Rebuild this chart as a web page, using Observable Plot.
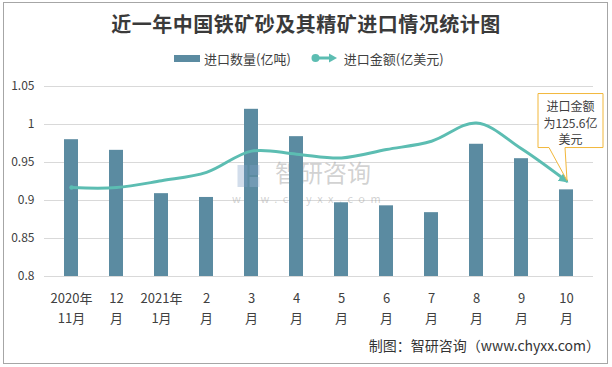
<!DOCTYPE html>
<html><head><meta charset="utf-8">
<script src="https://cdn.jsdelivr.net/npm/d3@7"></script>
<script src="https://cdn.jsdelivr.net/npm/@observablehq/plot@0.6"></script>
<style>
body{margin:0;background:#fff;font-family:"Noto Sans CJK SC","Noto Sans",sans-serif;}
#frame{position:relative;width:612px;height:367px;overflow:hidden;background:#fff}
#border{position:absolute;left:3px;top:2px;width:605px;height:362px;border:1px solid #a6a6a6;box-sizing:border-box;pointer-events:none}
#chart{position:absolute;left:0;top:0}
#title{position:absolute;left:0;top:9px;width:612px;text-align:center;font-size:20px;font-weight:700;color:#3a3a3a;line-height:30px;letter-spacing:0.5px}
#legend{position:absolute;left:174px;top:48px;height:20px;display:flex;align-items:center;font-size:13px;color:#404040}
#legend .sw{width:26px;height:7px;background:#5b8ba1;margin-right:4px}
#legend .it{display:flex;align-items:center}
#caption{position:absolute;right:12px;top:335px;font-size:14px;color:#333;line-height:20px}
</style>
</head><body>
<div id="frame">
  <div id="chart"></div>
  <div id="title">近一年中国铁矿砂及其精矿进口情况统计图</div>
  <div id="legend">
    <div class="it"><div class="sw"></div><span>进口数量(亿吨)</span></div>
    <div class="it" style="margin-left:20px"><svg width="28" height="12" style="margin-right:5px"><line x1="3" y1="6" x2="20" y2="6" stroke="#5cbdb2" stroke-width="3"/><circle cx="4.5" cy="6" r="4" fill="#5cbdb2"/><path d="M18,1.5L26,6L18,10.5Z" fill="#5cbdb2"/></svg><span>进口金额(亿美元)</span></div>
  </div>
  <div id="caption">制图：智研咨询（www.chyxx.com）</div>
  <div id="border"></div>
</div>
<script>
// categories (x tick labels, two lines)
const months = ["2020年\n11月","12\n月","2021年\n1月","2\n月","3\n月","4\n月","5\n月","6\n月","7\n月","8\n月","9\n月","10\n月"];
// 进口数量 (亿吨)
const quantity = [0.980, 0.966, 0.909, 0.904, 1.020, 0.984, 0.897, 0.893, 0.884, 0.974, 0.955, 0.914];
// 进口金额 (亿美元), drawn against a hidden secondary axis 0–250
const amount = [117, 117, 126, 137, 165, 161, 156, 167, 178, 202, 168, 125.6];
const amountAxis = [0, 250];
const yTicks = [0.8, 0.85, 0.9, 0.95, 1, 1.05];
const yDomain = [0.8, 1.05];

const barColor = "#5b8ba1";
const lineColor = "#5cbdb2";

const toLeft = v => yDomain[0] + (v - amountAxis[0]) / (amountAxis[1] - amountAxis[0]) * (yDomain[1] - yDomain[0]);
const table = months.map((m, i) => ({month: m, q: quantity[i], a: amount[i], ay: toLeft(amount[i])}));

const chart = Plot.plot({
  width: 612, height: 367,
  marginTop: 86, marginBottom: 91, marginLeft: 44, marginRight: 19,
  style: {fontFamily: '"Noto Sans CJK SC","Noto Sans",sans-serif', background: "transparent"},
  x: {domain: months, paddingInner: 0.69, paddingOuter: 0.345, label: null},
  y: {domain: yDomain, label: null},
  marks: [
    Plot.gridY(yTicks, {stroke: "#d9d9d9", strokeOpacity: 1}),
    Plot.text(["智研咨询"], {frameAnchor: "middle", dx: 4, dy: -7, fontSize: 24, fill: "#9a9a9a", fillOpacity: 0.45}),
    Plot.text(["www.chyxx.com"], {frameAnchor: "middle", dx: -10, dy: 18, fontSize: 11, fill: "#9a9a9a", fillOpacity: 0.45}),
    Plot.barY(table, {x: "month", y1: yDomain[0], y2: "q", fill: barColor}),
    Plot.line(table, {x: "month", y: "ay", stroke: lineColor, strokeWidth: 3, curve: "catmull-rom", markerStart: "dot", markerEnd: "arrow"}),
    Plot.axisY(yTicks, {tickSize: 0, tickPadding: 10, fontSize: 12, fill: "#404040", tickFormat: d => String(d), label: null}),
    Plot.axisX({tickSize: 0, tickPadding: 12, fontSize: 13, lineHeight: 1.55, fill: "#404040", tickFormat: d => d, label: null})
  ]
});
document.getElementById("chart").appendChild(chart);

// widen watermark url letter spacing
d3.select(chart).selectAll("text").filter(function() { return this.textContent === "www.chyxx.com"; })
  .style("letter-spacing", "5.5px");

// resize the line markers to fixed pixel sizes
d3.select(chart).selectAll("marker").each(function() {
  const m = d3.select(this);
  m.attr("markerUnits", "userSpaceOnUse");
  if (!m.select("circle").empty()) {
    m.attr("markerWidth", 9).attr("markerHeight", 9);
  } else {
    m.attr("markerWidth", 12).attr("markerHeight", 12).attr("viewBox", "-6 -5 10 10")
     .attr("fill", lineColor).attr("stroke", "none");
    m.selectAll("path").attr("d", "M-6,-4.2L2,0L-6,4.2Z").attr("fill", lineColor).attr("stroke", "none");
  }
});

// watermark logo
const g0 = d3.select(chart).append("g").attr("opacity", 0.35);
const sx = chart.scale("x"), sy = chart.scale("y");
{
  const fx = (44 + 593) / 2, fy = (86 + 276) / 2;
  g0.append("rect").attr("x", fx - 81).attr("y", fy - 16).attr("width", 10).attr("height", 22).attr("fill", "#7f9fc8");
  g0.append("rect").attr("x", fx - 69).attr("y", fy - 16).attr("width", 10).attr("height", 10).attr("fill", "#7f9fc8");
  g0.append("rect").attr("x", fx - 69).attr("y", fy - 4).attr("width", 10).attr("height", 10).attr("fill", "#9fb8d8");
}

// callout for the last value
const last = table.length - 1;
const cx = sx.apply(table[last].month) + sx.bandwidth / 2;
const cy = sy.apply(table[last].ay);
const L = cx - 28, R = cx + 37, T = cy - 87, B = cy - 33;
const g = d3.select(chart).append("g");
g.append("path")
  .attr("d", `M${L},${T}H${R}V${B}H${cx - 1}L${cx + 1},${cy}L${cx - 17},${B}H${L}Z`)
  .attr("fill", "#fff").attr("stroke", "#f2b73a").attr("stroke-width", 1);
const lines = ["进口金额", `为${table[last].a}亿`, "美元"];
const ly = [-75, -58, -42];
lines.forEach((t, i) => {
  g.append("text").attr("x", cx + 4.5).attr("y", cy + ly[i]).attr("text-anchor", "middle")
   .attr("dominant-baseline", "central").attr("font-size", 12).attr("fill", "#404040").text(t);
});
</script>
</body></html>
